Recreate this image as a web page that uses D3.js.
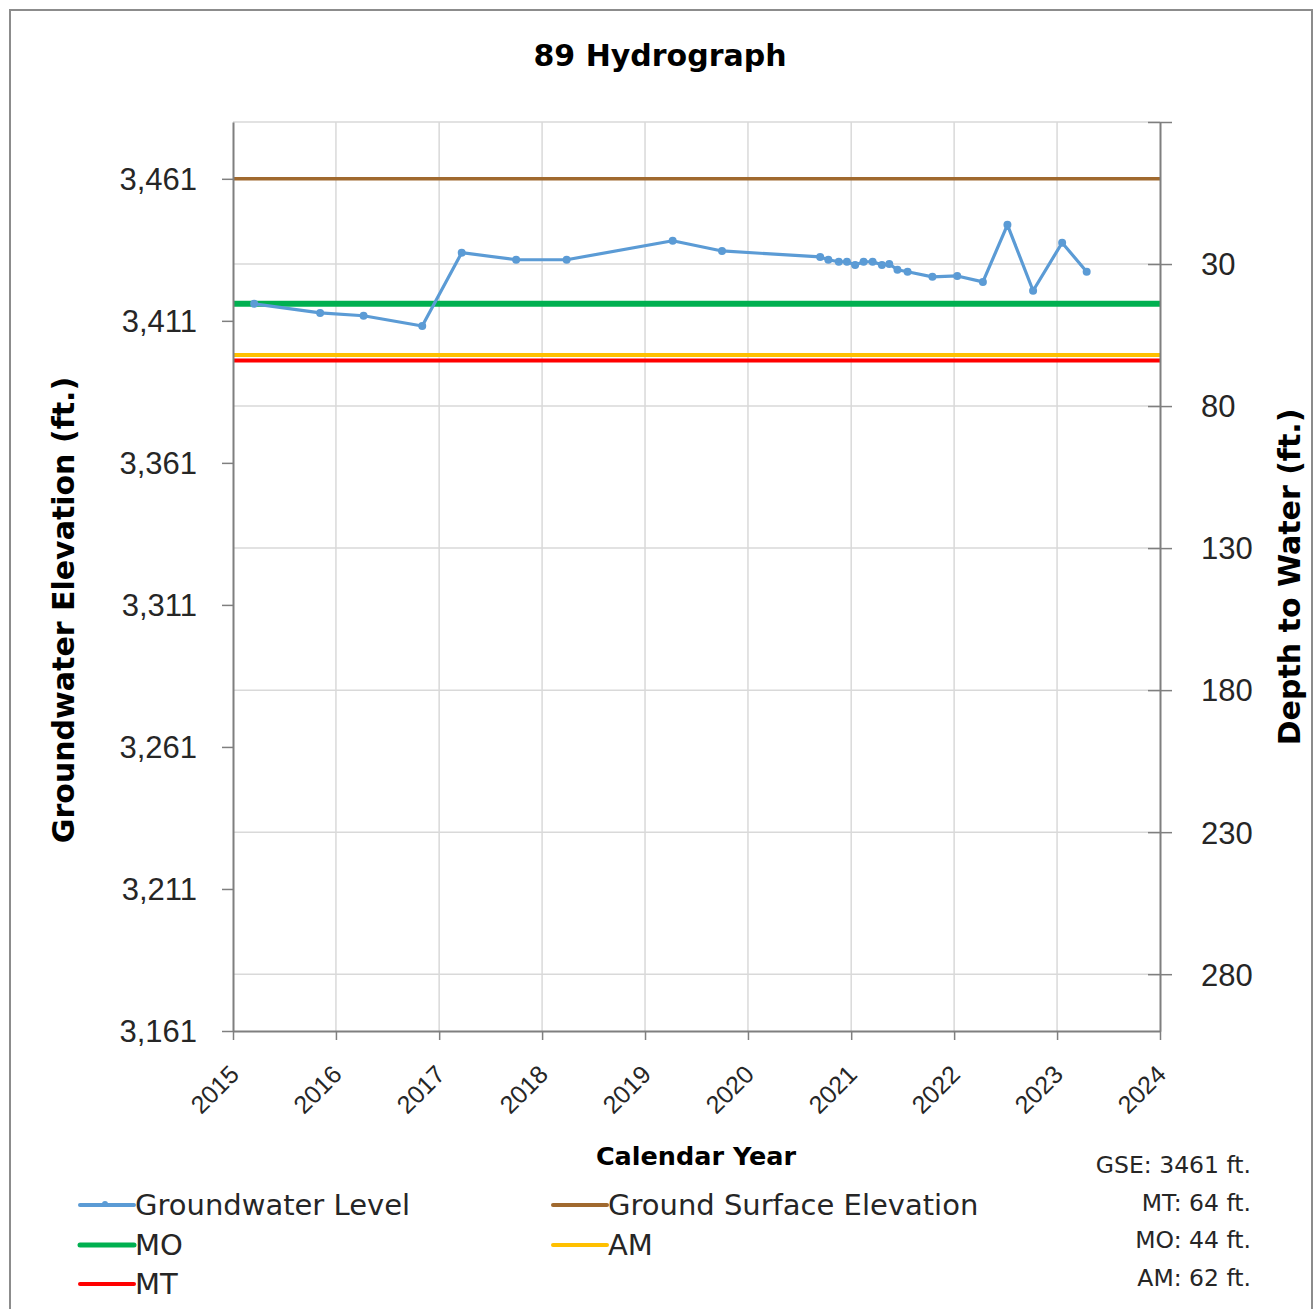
<!DOCTYPE html>
<html>
<head>
<meta charset="utf-8">
<script src="https://cdn.jsdelivr.net/npm/d3@7"></script>
<style>
  body { margin: 0; background: #fff; }
  svg { font-family: "DejaVu Sans", "Open Sans", sans-serif; }
</style>
</head>
<body>
<div id="container"></div>
<script>
/* ---------------- DATA ---------------- */
const title = "89 Hydrograph";
const gse = 3461;
const moDepth = 44, mtDepth = 64, amDepth = 62;

const sampleDates = [
  "2015-03-17", "2015-11-06", "2016-04-08", "2016-11-02", "2017-03-22",
  "2017-10-01", "2018-03-29", "2019-04-09", "2019-10-01", "2020-09-13",
  "2020-10-12", "2020-11-18", "2020-12-17", "2021-01-15", "2021-02-14",
  "2021-03-18", "2021-04-20", "2021-05-16", "2021-06-14", "2021-07-20",
  "2021-10-16", "2022-01-12", "2022-04-13", "2022-07-09", "2022-10-08",
  "2023-01-19", "2023-04-16"
];
const gwElevation = [
  3417.0, 3413.8, 3412.8, 3409.2, 3435.0,
  3432.5, 3432.5, 3439.2, 3435.6, 3433.5,
  3432.5, 3431.8, 3431.8, 3430.7, 3431.8,
  3431.8, 3430.7, 3431.0, 3429.0, 3428.3,
  3426.5, 3426.8, 3424.7, 3444.8, 3421.6,
  3438.5, 3428.3
];

const yearTicks = [2015, 2016, 2017, 2018, 2019, 2020, 2021, 2022, 2023, 2024];
const elevTicks = [3161, 3211, 3261, 3311, 3361, 3411, 3461];
const depthTicks = [30, 80, 130, 180, 230, 280];

const legendItems = [
  { name: "Groundwater Level", color: "#5B9BD5", marker: true },
  { name: "Ground Surface Elevation", color: "#A0692E" },
  { name: "MO", color: "#00B050" },
  { name: "AM", color: "#FFC000" },
  { name: "MT", color: "#FF0000" }
];
const notes = ["GSE: 3461 ft.", "MT: 64 ft.", "MO: 44 ft.", "AM: 62 ft."];

/* ---------------- CHART ---------------- */
const W = 1315, H = 1309;
const pL = 233, pR = 1160, pT = 122, pB = 1031;

const svg = d3.select("#container").append("svg")
  .attr("width", W).attr("height", H);

svg.append("rect")
  .attr("x", 10).attr("y", 10).attr("width", 1302).attr("height", 1310)
  .attr("fill", "#fff").attr("stroke", "#8c8c8c").attr("stroke-width", 2);

const x = d3.scaleTime()
  .domain([new Date(2015, 0, 1), new Date(2024, 0, 1)])
  .range([pL, pR]);
const y = d3.scaleLinear().domain([3161, 3481]).range([pB, pT]);
const yd = d3.scaleLinear().domain([gse - 3161, gse - 3481]).range([pB, pT]);

const yearDate = yr => new Date(yr, 0, 1);

// gridlines
const grid = svg.append("g").attr("stroke", "#d9d9d9").attr("stroke-width", 1.5);
yearTicks.slice(1, -1).forEach(yr => {
  grid.append("line")
    .attr("x1", x(yearDate(yr))).attr("x2", x(yearDate(yr)))
    .attr("y1", pT).attr("y2", pB);
});
[-20].concat(depthTicks).forEach(d => {
  grid.append("line")
    .attr("x1", pL).attr("x2", pR)
    .attr("y1", yd(d)).attr("y2", yd(d));
});

// reference lines
const refs = [
  { v: gse, color: "#A0692E", w: 3.5 },
  { v: gse - moDepth, color: "#00B050", w: 6 },
  { v: gse - amDepth, color: "#FFC000", w: 4 },
  { v: gse - mtDepth, color: "#FF0000", w: 4 }
];
refs.forEach(r => {
  svg.append("line")
    .attr("x1", pL).attr("x2", pR)
    .attr("y1", y(r.v)).attr("y2", y(r.v))
    .attr("stroke", r.color).attr("stroke-width", r.w);
});

// groundwater series
const parse = d3.timeParse("%Y-%m-%d");
const series = sampleDates.map((d, i) => ({ date: parse(d), v: gwElevation[i] }));

svg.append("path")
  .datum(series)
  .attr("fill", "none")
  .attr("stroke", "#5B9BD5")
  .attr("stroke-width", 3.2)
  .attr("stroke-linejoin", "round")
  .attr("d", d3.line().x(d => x(d.date)).y(d => y(d.v)));

svg.append("g").selectAll("circle")
  .data(series)
  .enter().append("circle")
  .attr("cx", d => x(d.date))
  .attr("cy", d => y(d.v))
  .attr("r", 4)
  .attr("fill", "#5B9BD5");

// axes
const axisColor = "#7f7f7f";
const styleAxis = g => {
  g.select(".domain").attr("stroke", axisColor).attr("stroke-width", 2);
  g.selectAll(".tick line").attr("stroke", axisColor).attr("stroke-width", 1.5);
  g.selectAll("text").attr("fill", "#262626");
};

const xAxis = svg.append("g")
  .attr("transform", `translate(0,${pB})`)
  .call(d3.axisBottom(x).tickValues(yearTicks.map(yearDate))
    .tickFormat(d3.timeFormat("%Y")).tickSize(9).tickSizeOuter(0))
  .call(styleAxis);
xAxis.selectAll("text")
  .attr("font-size", 25)
  .attr("text-anchor", "end")
  .attr("x", 0).attr("y", 0).attr("dy", 0)
  .attr("transform", "translate(7,45) rotate(-45)");

const yAxis = svg.append("g")
  .attr("transform", `translate(${pL},0)`)
  .call(d3.axisLeft(y).tickValues(elevTicks).tickFormat(d3.format(",")).tickSize(11).tickSizeOuter(0))
  .call(styleAxis);
yAxis.selectAll("text").attr("font-size", 31).attr("x", -36).attr("dy", "0.35em");

const yAxisR = svg.append("g")
  .attr("transform", `translate(${pR},0)`)
  .call(d3.axisRight(yd).tickValues([-20].concat(depthTicks))
    .tickFormat(d => d < 0 ? "" : d).tickSize(12).tickSizeOuter(0))
  .call(styleAxis);
yAxisR.selectAll(".tick line").attr("x1", -12);
yAxisR.selectAll("text").attr("font-size", 31).attr("x", 41).attr("dy", "0.35em");

// titles
svg.append("text")
  .attr("x", 660).attr("y", 66)
  .attr("text-anchor", "middle")
  .attr("font-size", 30).attr("font-weight", "bold").attr("fill", "#000")
  .text(title);

svg.append("text")
  .attr("transform", "translate(74,610) rotate(-90)")
  .attr("text-anchor", "middle")
  .attr("font-size", 30).attr("font-weight", "bold").attr("fill", "#000")
  .text("Groundwater Elevation (ft.)");

svg.append("text")
  .attr("transform", "translate(1300,577) rotate(-90)")
  .attr("text-anchor", "middle")
  .attr("font-size", 30).attr("font-weight", "bold").attr("fill", "#000")
  .text("Depth to Water (ft.)");

svg.append("text")
  .attr("x", 696).attr("y", 1165)
  .attr("text-anchor", "middle")
  .attr("font-size", 25.5).attr("font-weight", "bold").attr("fill", "#000")
  .text("Calendar Year");

// legend
const legendPos = [[80, 1205], [553, 1205], [80, 1245], [553, 1245], [80, 1284]];
legendItems.forEach((it, i) => {
  const [lx, ly] = legendPos[i];
  const g = svg.append("g");
  g.append("line")
    .attr("x1", lx).attr("x2", lx + 54)
    .attr("y1", ly).attr("y2", ly)
    .attr("stroke", it.color).attr("stroke-width", it.name === "MO" ? 5 : 4)
    .attr("stroke-linecap", "round");
  if (it.marker) {
    g.append("circle").attr("cx", lx + 25).attr("cy", ly - 1).attr("r", 3).attr("fill", it.color);
  }
  g.append("text")
    .attr("x", lx + 55).attr("y", ly)
    .attr("dy", "0.35em")
    .attr("font-size", 29).attr("fill", "#262626")
    .text(it.name);
});

// notes
svg.append("g").selectAll("text")
  .data(notes)
  .enter().append("text")
  .attr("x", 1251)
  .attr("y", (d, i) => 1165 + i * 37.5)
  .attr("dy", "0.35em")
  .attr("text-anchor", "end")
  .attr("font-size", 23.5).attr("fill", "#262626")
  .text(d => d);
</script>
</body>
</html>
